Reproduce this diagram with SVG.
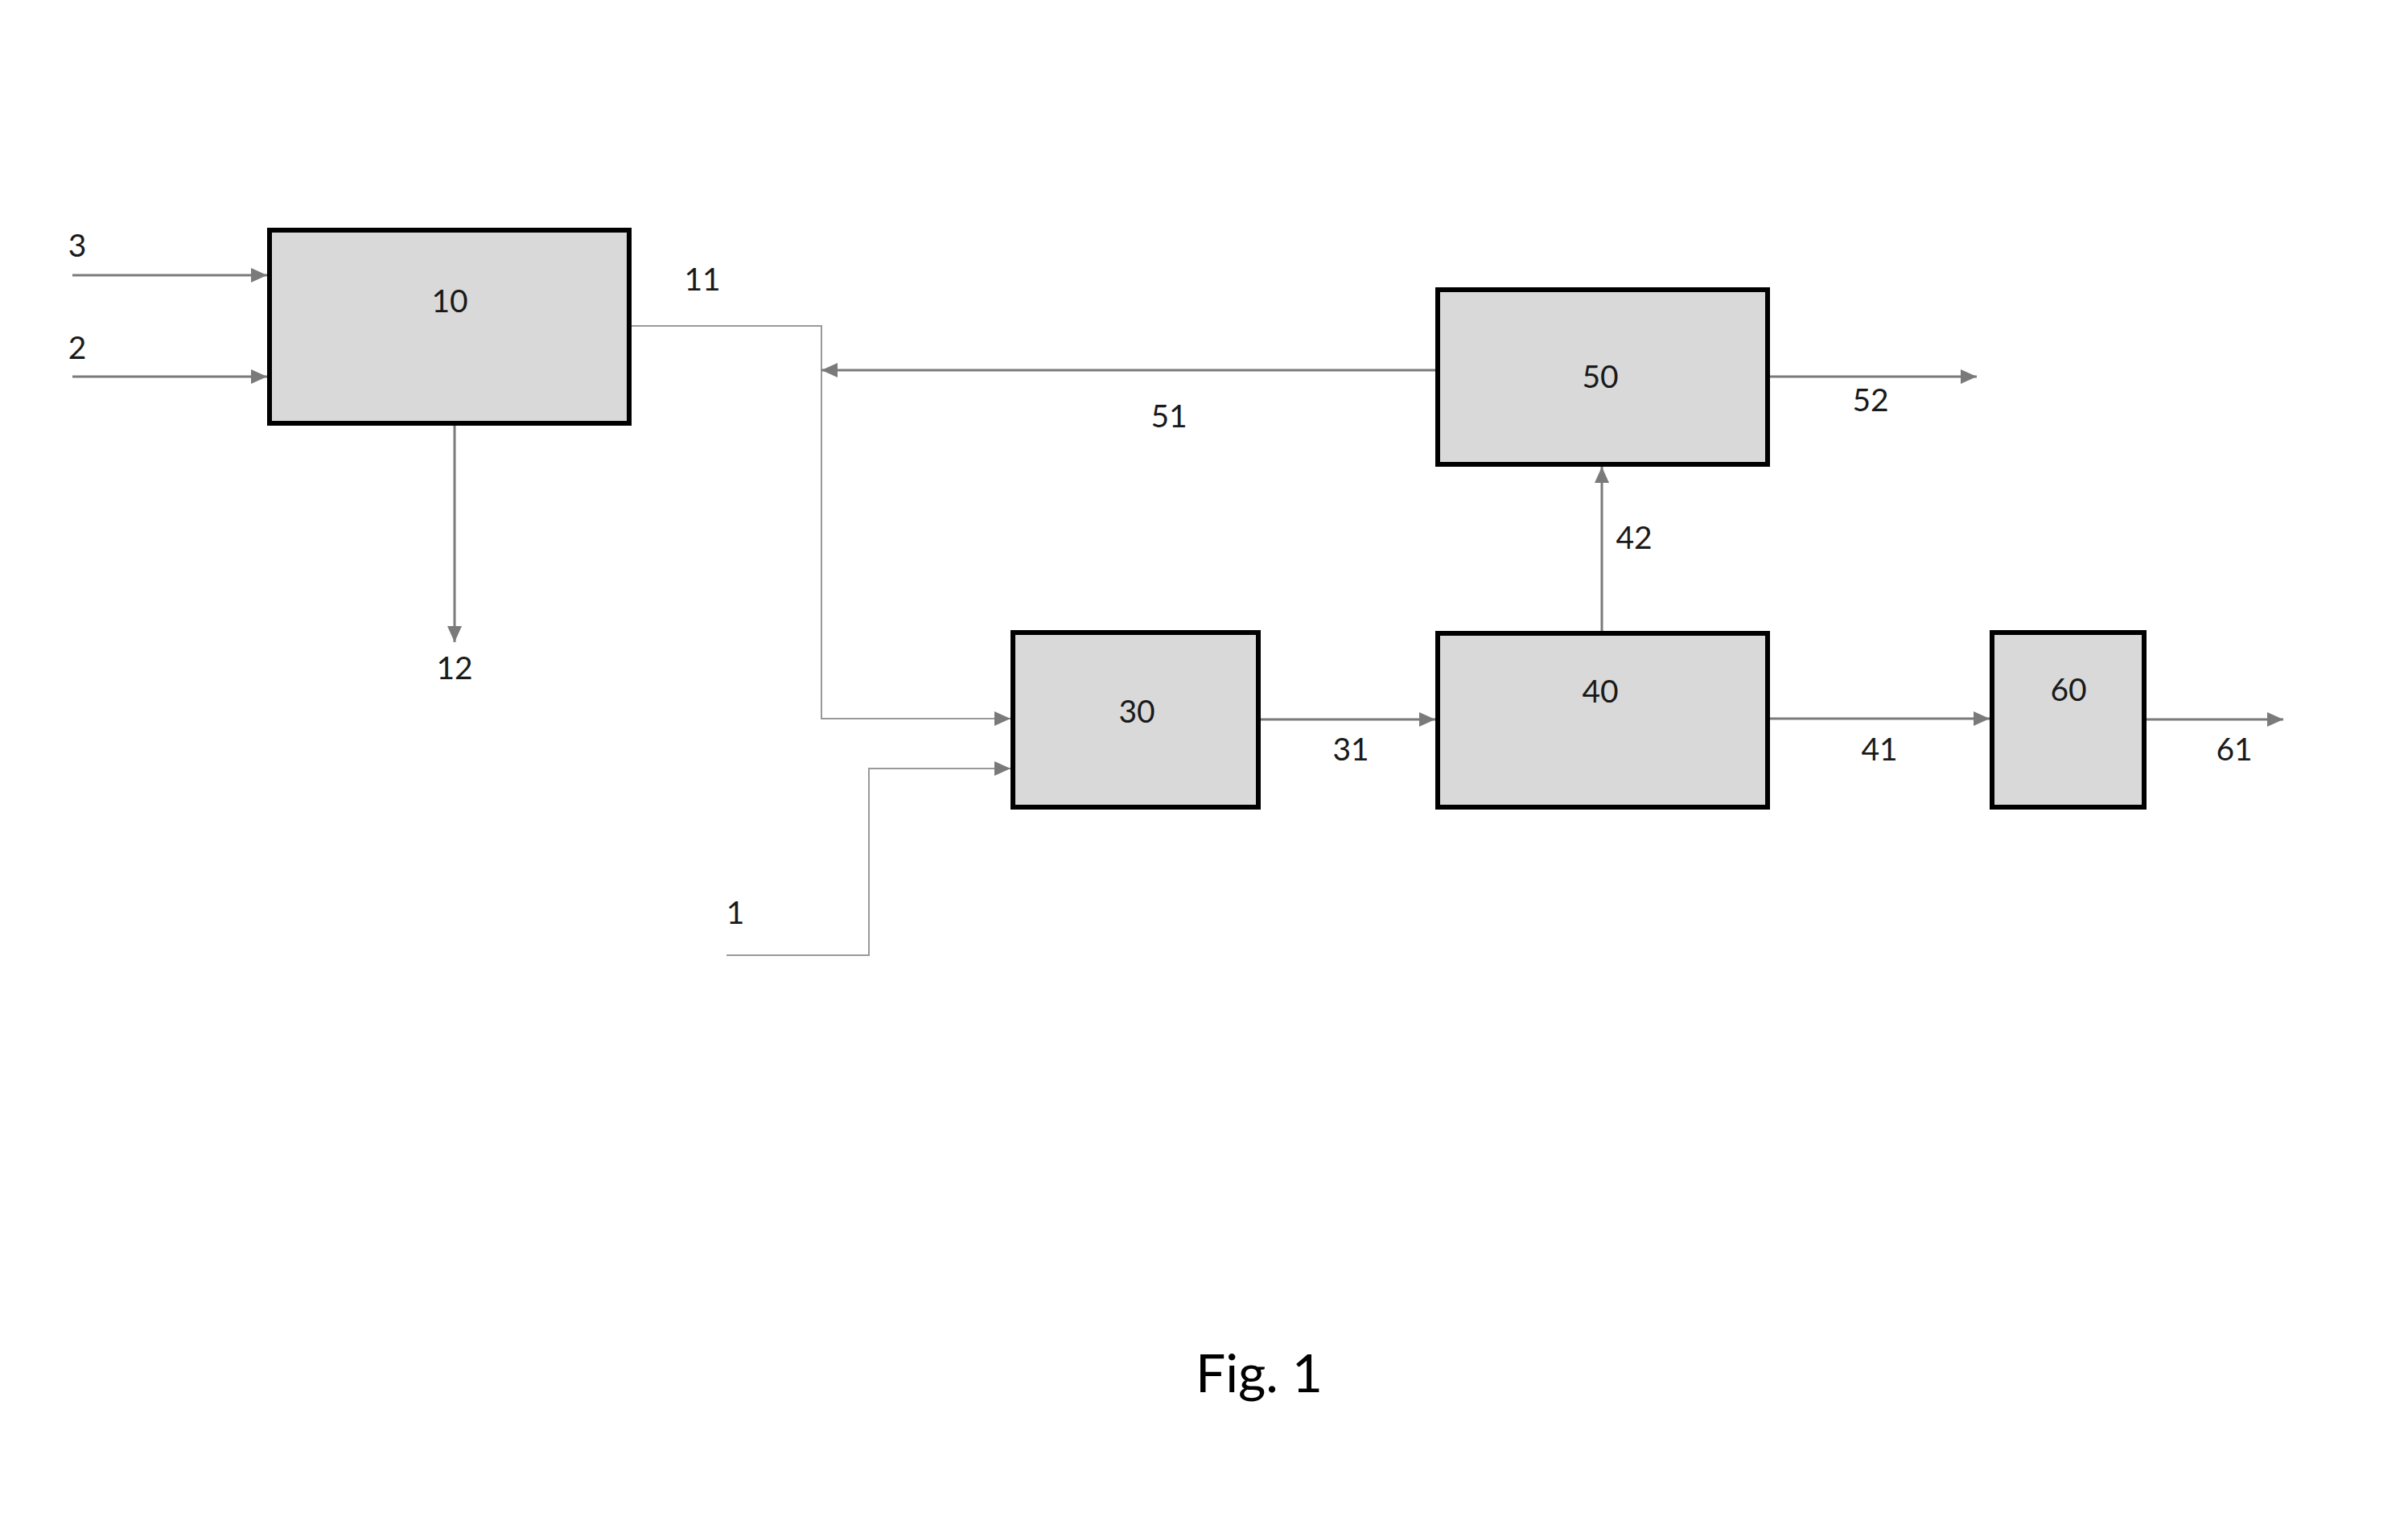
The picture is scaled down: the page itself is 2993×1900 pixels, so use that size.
<svg xmlns="http://www.w3.org/2000/svg" width="2993" height="1900" viewBox="0 0 2993 1900">
<style>
.box{fill:#d9d9d9;stroke:#000;stroke-width:6}
.lbl{font-family:Lato,"Liberation Sans",sans-serif;font-size:39px;fill:#1a1a1a;text-anchor:middle}
.fig{font-family:Lato,"Liberation Sans",sans-serif;font-size:66px;fill:#000;text-anchor:middle}
.ln{fill:none;stroke:#7a7a7a;stroke-width:3}
.thin{fill:none;stroke:#999;stroke-width:2}
</style>
<defs>
<marker id="ah" markerUnits="userSpaceOnUse" markerWidth="20" markerHeight="20" refX="20" refY="10" orient="auto">
<path d="M0,1 L20,10 L0,19 z" fill="#7a7a7a"/>
</marker>
</defs>
<rect width="2993" height="1900" fill="#fff"/>
<g id="connectors">
<path class="ln" d="M90,342 H332" marker-end="url(#ah)"/>
<path class="ln" d="M90,468 H332" marker-end="url(#ah)"/>
<path class="ln" d="M565,529 V798" marker-end="url(#ah)"/>
<path class="thin" d="M785,405 H1021 V893 H1256" marker-end="url(#ah)"/>
<path class="ln" d="M1784,460 H1021" marker-end="url(#ah)"/>
<path class="ln" d="M2200,468 H2457" marker-end="url(#ah)"/>
<path class="thin" d="M903,1187 H1080 V955 H1256" marker-end="url(#ah)"/>
<path class="ln" d="M1567,894 H1784" marker-end="url(#ah)"/>
<path class="ln" d="M1991,784 V580" marker-end="url(#ah)"/>
<path class="ln" d="M2200,893 H2473" marker-end="url(#ah)"/>
<path class="ln" d="M2668,894 H2838" marker-end="url(#ah)"/>
</g>
<g id="node10"><rect class="box" x="335" y="286" width="447" height="240"/><text class="lbl" x="559" y="388">10</text></g>
<g id="node30"><rect class="box" x="1259" y="786" width="305" height="217"/><text class="lbl" x="1413" y="898">30</text></g>
<g id="node40"><rect class="box" x="1787" y="787" width="410" height="216"/><text class="lbl" x="1989" y="873">40</text></g>
<g id="node50"><rect class="box" x="1787" y="360" width="410" height="217"/><text class="lbl" x="1989" y="482">50</text></g>
<g id="node60"><rect class="box" x="2476" y="786" width="189" height="217"/><text class="lbl" x="2571" y="871">60</text></g>
<g id="labels">
<text class="lbl" x="96" y="319">3</text>
<text class="lbl" x="96" y="446">2</text>
<text class="lbl" x="873" y="361">11</text>
<text class="lbl" x="565" y="844">12</text>
<text class="lbl" x="914" y="1148">1</text>
<text class="lbl" x="1679" y="945">31</text>
<text class="lbl" x="2336" y="945">41</text>
<text class="lbl" x="2031" y="682">42</text>
<text class="lbl" x="1453" y="531">51</text>
<text class="lbl" x="2325" y="511">52</text>
<text class="lbl" x="2777" y="945">61</text>
<text class="fig" x="1565" y="1730">Fig. 1</text>
</g>
</svg>
